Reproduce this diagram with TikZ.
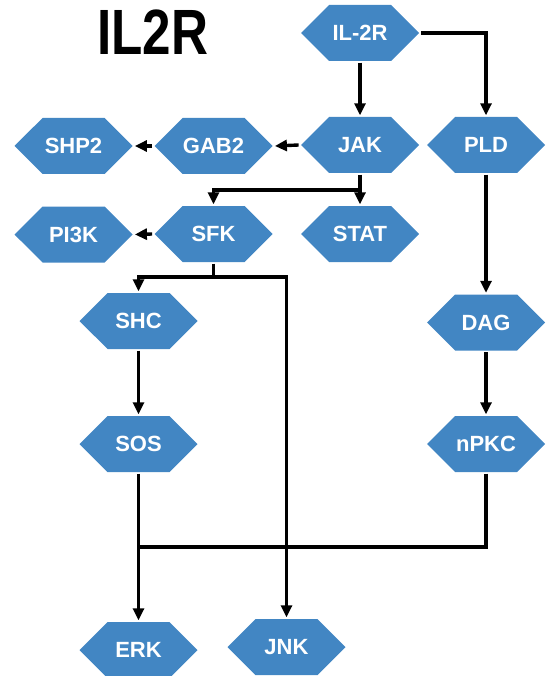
\documentclass[tikz,border=0pt]{standalone}
\usepackage{fontspec}
\setmainfont{Liberation Sans}
\usepackage{tikz}
\usetikzlibrary{shapes.symbols,arrows.meta}
\definecolor{hexblue}{RGB}{66,134,195}

\begin{document}
\begin{tikzpicture}[x=1pt, y=-1pt, line width=3.4pt,
    every node/.style={font=\fontsize{22}{24}\selectfont\bfseries},
    hexa/.style={shape=signal, signal to=west and east, signal pointer angle=90,
      minimum width=118pt, minimum height=56pt, inner sep=0pt, fill=hexblue, text=white},
    arr/.style={-{Triangle[length=12pt,width=11pt]}}]
      \useasboundingbox (0,0) rectangle (548,676);

      \node[anchor=base, xscale=0.8, font=\fontsize{64}{64}\selectfont\bfseries] (title) at (152.5,55) {IL2R};

      \node[hexa] (il2r) at (360,33) {IL-2R};
      \node[hexa] (jak) at (360,145) {JAK};
      \node[hexa] (pld) at (486,145) {PLD};
      \node[hexa] (gab) at (213.5,146) {GAB2};
      \node[hexa] (shp) at (73.5,146) {SHP2};
      \node[hexa] (sfk) at (213.5,234) {SFK};
      \node[hexa] (stat) at (360,234) {STAT};
      \node[hexa] (pik) at (73.5,234.5) {PI3K};
      \node[hexa] (shc) at (138.5,321) {SHC};
      \node[hexa] (dag) at (486,322.5) {DAG};
      \node[hexa] (sos) at (138.5,444) {SOS};
      \node[hexa] (npkc) at (486,444) {nPKC};
      \node[hexa] (erk) at (138.5,650) {ERK};
      \node[hexa] (jnk) at (286.5,647) {JNK};

      \coordinate (jsplit) at (360,190);
      \coordinate (ssplit) at (213.5,277);
      \coordinate (merge) at (138.5,547);

      \draw[arr] (il2r.south) -- (jak.north);
      \draw[arr] (il2r.east) -| (pld.north);
      \draw[arr] (jak.west) -- (gab.east);
      \draw[arr] (gab.west) -- (shp.east);
      \draw[arr] (jak.south) -- (stat.north);
      \draw[arr] (jsplit) -| (sfk.north);
      \draw[arr] (sfk.west) -- (pik.east);
      \draw (sfk.south) -- (ssplit);
      \draw[arr] (ssplit) -| (shc.north);
      \draw[arr] (ssplit) -| (jnk.north);
      \draw[arr] (shc.south) -- (sos.north);
      \draw[arr] (sos.south) -- (erk.north);
      \draw[arr] (pld.south) -- (dag.north);
      \draw[arr] (dag.south) -- (npkc.north);
      \draw (npkc.south) |- (merge);
    \end{tikzpicture}
\end{document}
